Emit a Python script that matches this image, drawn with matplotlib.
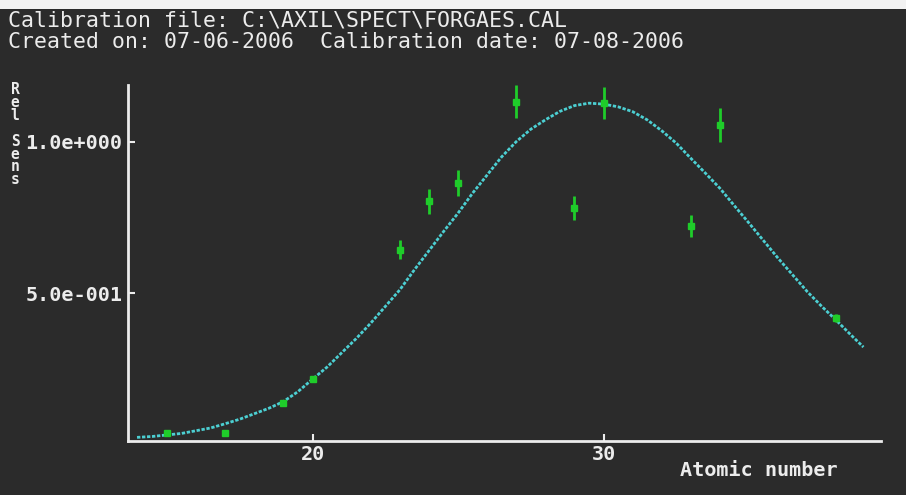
import matplotlib
matplotlib.use("Agg")
import matplotlib.pyplot as plt
from matplotlib.patches import Rectangle

# ---- data ----
atomic_number = [15, 17, 19, 20, 23, 24, 25, 27, 29, 30, 33, 34, 38]
rel_sens = [0.040, 0.037, 0.139, 0.217, 0.644, 0.803, 0.865, 1.132, 0.782, 1.128, 0.722, 1.055, 0.418]
rel_err = [0.004, 0.004, 0.005, 0.006, 0.032, 0.041, 0.043, 0.055, 0.040, 0.054, 0.037, 0.055, 0.012]

fit_z = [13.97, 14.5, 15, 15.5, 16, 16.5, 17, 17.5, 18, 18.5, 19, 19.5, 20, 20.5,
         21, 21.5, 22, 22.5, 23, 23.5, 24, 24.5, 25, 25.5, 26, 26.5, 27, 27.5,
         28, 28.5, 29, 29.5, 30, 30.5, 31, 31.5, 32, 32.5, 33, 33.5, 34, 34.5,
         35, 35.5, 36, 36.5, 37, 37.5, 38, 38.5, 38.93]
fit_sens = [0.024, 0.027, 0.032, 0.037, 0.046, 0.055, 0.069, 0.084, 0.102, 0.120,
            0.142, 0.175, 0.216, 0.256, 0.303, 0.350, 0.401, 0.456, 0.511, 0.577,
            0.640, 0.703, 0.764, 0.830, 0.890, 0.950, 1.000, 1.041, 1.072, 1.100,
            1.119, 1.127, 1.124, 1.115, 1.099, 1.072, 1.036, 0.995, 0.945, 0.896,
            0.846, 0.788, 0.731, 0.673, 0.615, 0.560, 0.505, 0.456, 0.410, 0.362,
            0.322]

x_ticks = [20, 30]
x_tick_labels = ["20", "30"]
y_ticks = [0.5, 1.0]
y_tick_labels = ["5.0e-001", "1.0e+000"]

title_lines = ["Calibration file: C:\\AXIL\\SPECT\\FORGAES.CAL",
               "Created on: 07-06-2006  Calibration date: 07-08-2006"]
x_label = "Atomic number"
y_label = "Rel Sens"

# ---- style ----
BG = "#2b2b2b"
FG = "#ececec"
CURVE = "#4ccfd2"
GREEN = "#1fcc2a"
MONO = "DejaVu Sans Mono"

W, H = 906, 495
fig = plt.figure(figsize=(W / 100, H / 100), dpi=100, facecolor=BG)
fig.patches.append(Rectangle((0, 1 - 9 / H), 1, 9 / H, transform=fig.transFigure,
                             facecolor="#f2f2f2", edgecolor="none", zorder=0))

ax = fig.add_axes([128 / W, 1 - 441 / H, (880.6 - 128) / W, (441 - 85) / H])
ax.set_facecolor(BG)

ax.plot(fit_z, fit_sens, color=CURVE, lw=2.0, linestyle=(0, (1.2, 0.6)), zorder=2)
ax.errorbar(atomic_number, rel_sens, yerr=rel_err, fmt="s", color=GREEN,
            ms=4.5, mec=GREEN, mfc=GREEN, elinewidth=2.0, capsize=0, zorder=3)

ax.set_xlim(13.66, 39.52)
ax.set_ylim(0.012, 1.187)

for s in ["top", "right"]:
    ax.spines[s].set_visible(False)
for s in ["left", "bottom"]:
    ax.spines[s].set_color(FG)
    ax.spines[s].set_linewidth(2)

ax.set_xticks(x_ticks)
ax.set_xticklabels(x_tick_labels)
ax.set_yticks(y_ticks)
ax.set_yticklabels(y_tick_labels)
ax.tick_params(axis="both", direction="in", length=5, width=1.5, colors=FG,
               labelsize=14.5)
ax.tick_params(axis="y", pad=4)
ax.tick_params(axis="x", pad=3)
for lab in ax.get_xticklabels() + ax.get_yticklabels():
    lab.set_fontfamily(MONO)
    lab.set_fontweight("bold")
    lab.set_color(FG)

# x label
fig.text(838 / W, 1 - 471 / H, x_label, ha="right", va="center", color=FG,
         fontsize=14.5, fontweight="bold", family=MONO)

# stacked y label (one character per line)
stacked = "\n".join(y_label)
fig.text(15 / W, 1 - 134.75 / H, stacked, ha="center", va="center",
         multialignment="center", color=FG, fontsize=10.5, fontweight="bold",
         family=MONO, linespacing=0.82)

# header
fig.text(8 / W, 1 - 20 / H, title_lines[0], ha="left", va="center", color=FG,
         fontsize=15.5, family=MONO)
fig.text(8 / W, 1 - 42 / H, title_lines[1], ha="left", va="center", color=FG,
         fontsize=15.5, family=MONO)

fig.savefig("out.png", dpi=100, facecolor=BG)
